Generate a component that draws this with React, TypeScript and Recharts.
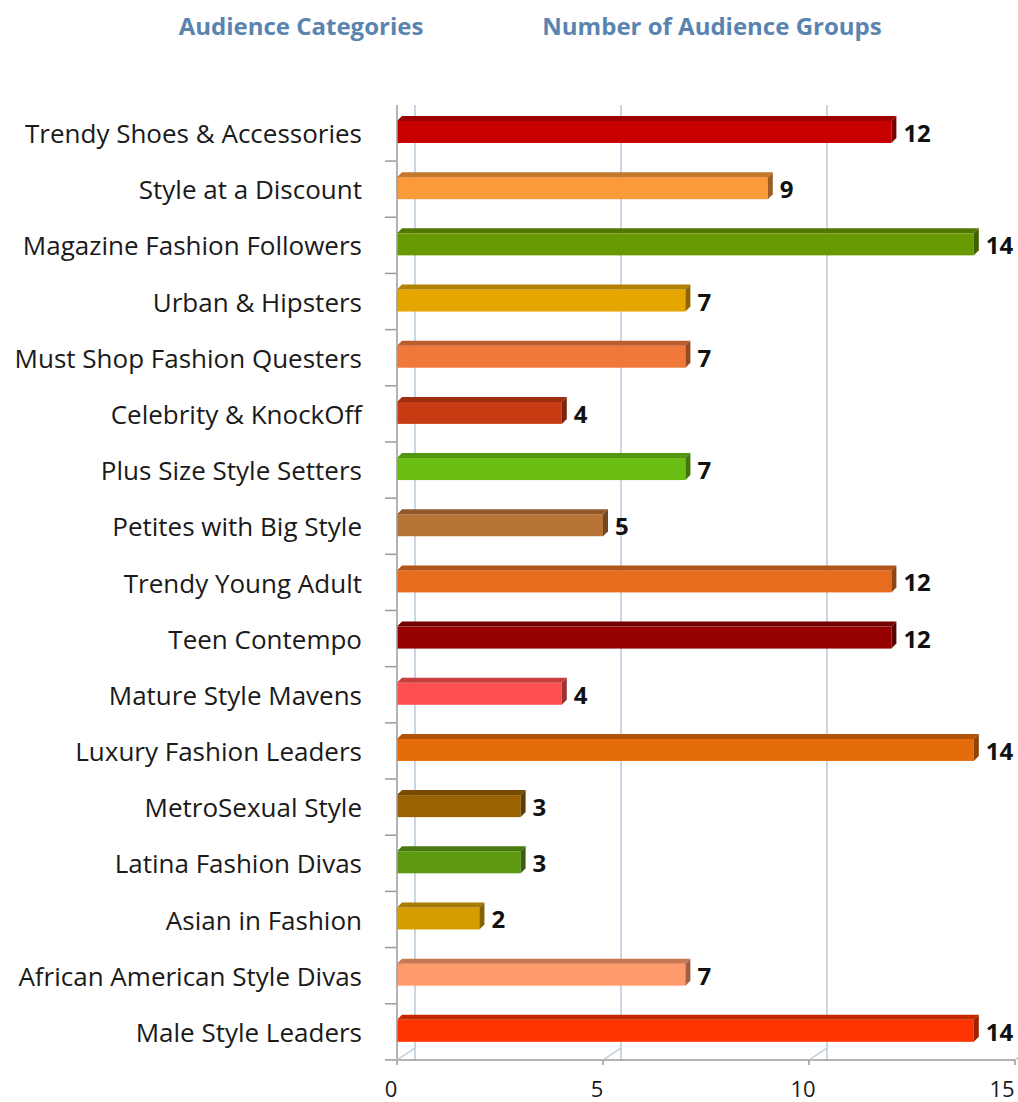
import React from "react";
import { BarChart, Bar, XAxis, YAxis, CartesianGrid, Cell, LabelList } from "recharts";

const categories = [
  "Trendy Shoes & Accessories",
  "Style at a Discount",
  "Magazine Fashion Followers",
  "Urban & Hipsters",
  "Must Shop Fashion Questers",
  "Celebrity & KnockOff",
  "Plus Size Style Setters",
  "Petites with Big Style",
  "Trendy Young Adult",
  "Teen Contempo",
  "Mature Style Mavens",
  "Luxury Fashion Leaders",
  "MetroSexual Style",
  "Latina Fashion Divas",
  "Asian in Fashion",
  "African American Style Divas",
  "Male Style Leaders",
];

const groupCounts = [12, 9, 14, 7, 7, 4, 7, 5, 12, 12, 4, 14, 3, 3, 2, 7, 14];

const barColors = [
  "#C80000", "#FA9A38", "#679A00", "#E6A600", "#F0783A", "#C83C14",
  "#6ABE14", "#B87436", "#E86C1E", "#960000", "#FF5050", "#E46C0A",
  "#9A6200", "#5E9A10", "#D49E00", "#FF9A6A", "#FF3300",
];

const xTicks = [0, 5, 10, 15];

const titleLeft = "Audience Categories";
const titleRight = "Number of Audience Groups";

const data = categories.map((name, i) => ({ name, value: groupCounts[i], color: barColors[i] }));

const FONT = "'Open Sans', 'DejaVu Sans', sans-serif";
const DEPTH_X = 18;

function shade(hex: string, f: number): string {
  const n = parseInt(hex.slice(1), 16);
  const r = Math.round(((n >> 16) & 255) * f);
  const g = Math.round(((n >> 8) & 255) * f);
  const b = Math.round((n & 255) * f);
  return `rgb(${r},${g},${b})`;
}

const Bar3D = (props: any) => {
  const { x, y, width, height, fill } = props;
  if (width == null || height == null) return null;
  const d = 5;
  const yy = y - 4;
  const h = height;
  const top = `${x},${yy + d} ${x + d},${yy} ${x + width + d},${yy} ${x + width},${yy + d}`;
  const side = `${x + width},${yy + d} ${x + width + d},${yy} ${x + width + d},${yy + h - d} ${x + width},${yy + h}`;
  return (
    <g>
      <rect x={x} y={yy + d} width={width} height={h - d} fill={fill} />
      <polygon points={top} fill={shade(fill, 0.78)} />
      <polygon points={side} fill={shade(fill, 0.62)} />
    </g>
  );
};

const CategoryTick = (props: any) => {
  const { y, payload } = props;
  return (
    <g>
      <text x={362} y={y} dy={10} textAnchor="end" fontFamily={FONT} fontSize={26} fill="#1a1a1a">
        {payload.value}
      </text>
      <line x1={385} x2={396} y1={y + 28} y2={y + 28} stroke="#9a9a9a" strokeWidth={1.5} />
    </g>
  );
};

const NumberTick = (props: any) => {
  const { x, y, payload } = props;
  const tx = Math.min(x - 6, 1002);
  return (
    <g>
      <line x1={x} y1={y - 7} x2={x + DEPTH_X} y2={y - 19} stroke="#b9c9d8" strokeWidth={1.5} />
      <text x={tx} y={y} dy={30} textAnchor="middle" fontFamily={FONT} fontSize={22} fill="#1a1a1a">
        {payload.value}
      </text>
    </g>
  );
};

const gridGen = (props: any) => {
  const xa = props && props.xAxis;
  const off = props && props.offset;
  return xTicks.map((t) => {
    if (xa && typeof xa.scale === "function") return xa.scale(t) + DEPTH_X;
    return off.left + (t / 15) * off.width + DEPTH_X;
  });
};

export default function App() {
  return (
    <div style={{ position: "absolute", left: 0, top: 0, width: 1018, height: 1102, background: "#fff" }}>
      <div
        style={{
          position: "absolute",
          top: 8,
          left: 0,
          width: 1018,
          fontFamily: FONT,
          fontWeight: 700,
          fontSize: 24,
          lineHeight: "36px",
          color: "#5A84B0",
        }}
      >
        <span style={{ position: "absolute", left: 301, transform: "translateX(-50%)", whiteSpace: "nowrap" }}>
          {titleLeft}
        </span>
        <span style={{ position: "absolute", left: 712, transform: "translateX(-50%)", whiteSpace: "nowrap" }}>
          {titleRight}
        </span>
      </div>
      <BarChart
        width={1018}
        height={1102}
        data={data}
        layout="vertical"
        margin={{ top: 105, right: 3, bottom: 0, left: 0 }}
        barCategoryGap={14}
      >
        <CartesianGrid
          horizontal={false}
          vertical={true}
          stroke="#b9c9d8"
          strokeWidth={1.5}
          verticalCoordinatesGenerator={gridGen}
        />
        <XAxis
          type="number"
          domain={[0, 15]}
          ticks={xTicks}
          interval={0}
          height={42}
          axisLine={{ stroke: "#9a9a9a", strokeWidth: 1.5 }}
          tickLine={{ stroke: "#9a9a9a", strokeWidth: 1.5 }}
          tickSize={5}
          tick={<NumberTick />}
        />
        <YAxis
          type="category"
          dataKey="name"
          width={397}
          axisLine={{ stroke: "#9a9a9a", strokeWidth: 1.5 }}
          tickLine={false}
          interval={0}
          tick={<CategoryTick />}
        />
        <Bar dataKey="value" isAnimationActive={false} shape={<Bar3D />} barSize={27}>
          {data.map((d, i) => (
            <Cell key={i} fill={d.color} />
          ))}
          <LabelList
            dataKey="value"
            position="right"
            offset={12}
            fontFamily={FONT}
            fontWeight={700}
            fontSize={24}
            fill="#111"
          />
        </Bar>
      </BarChart>
    </div>
  );
}
